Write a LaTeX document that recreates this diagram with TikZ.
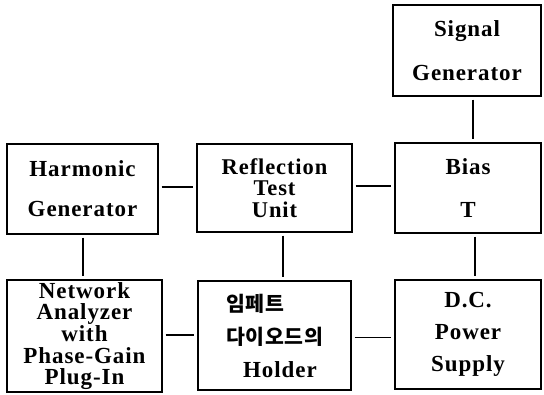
\documentclass[tikz,border=0pt]{standalone}
\usepackage{fontspec}
\setmainfont{Liberation Serif}[LetterSpace=4]
\newfontfamily\krfont{Noto Sans CJK KR}[LetterSpace=3]
\begin{document}
\begin{tikzpicture}[x=1pt,y=-1pt,
  box/.style={draw, line width=1.2pt, rectangle, inner sep=0pt, align=center},
  link/.style={line width=1.1pt, shorten >=3pt, shorten <=3pt},
  vlink/.style={link, line width=1.6pt}]
\useasboundingbox (0,0) rectangle (544,395);
\node[box, minimum width=148pt, minimum height=91pt,
  font=\fontsize{23}{44}\selectfont\bfseries] (sig) at (467,50.5) {Signal\\Generator};
\node[box, minimum width=151pt, minimum height=90pt,
  font=\fontsize{23}{40}\selectfont\bfseries] (harm) at (82.5,189) {Harmonic\\Generator};
\node[box, minimum width=155pt, minimum height=88pt,
  font=\fontsize{22.5}{21.7}\selectfont\bfseries] (refl) at (274.5,188) {Reflection\\Test\\Unit};
\node[box, minimum width=146pt, minimum height=90pt,
  font=\fontsize{23}{43}\selectfont\bfseries] (bias) at (468,188) {Bias\\T};
\node[box, minimum width=155pt, minimum height=112pt,
  font=\fontsize{23}{21.7}\selectfont\bfseries] (net) at (84.5,336)
  {Network\\Analyzer\\with\\Phase-Gain\\Plug-In};
\node[box, minimum width=153pt, minimum height=109pt, align=left,
  font=\fontsize{23}{33}\selectfont\bfseries] (hold) at (274.5,335.5)
  {{\krfont\fontsize{20.5}{33}\selectfont 임페트}\\{\krfont\fontsize{20.5}{33}\selectfont 다이오드의}\\\hspace*{17pt}Holder};
\node[box, minimum width=146pt, minimum height=109pt,
  font=\fontsize{23}{32}\selectfont\bfseries] (dc) at (468,334.5) {D.C.\\Power\\Supply};
\draw[vlink] ([xshift=6pt]sig.south) -- ([xshift=6pt]sig.south |- bias.north);
\draw[vlink] ([xshift=7pt]bias.south) -- ([xshift=7pt]bias.south |- dc.north);
\draw[vlink] ([xshift=0.5pt]harm.south) -- ([xshift=0.5pt]harm.south |- net.north);
\draw[vlink] ([xshift=8.5pt]refl.south) -- ([xshift=8.5pt]refl.south |- hold.north);
\draw[link] ([yshift=2pt]harm.east) -- ([yshift=2pt]harm.east -| refl.west);
\draw[link] ([yshift=2pt]refl.east) -- ([yshift=2pt]refl.east -| bias.west);
\draw[link] ([yshift=1pt]net.east) -- ([yshift=1pt]net.east -| hold.west);
\draw[link] ([yshift=-2pt]hold.east) -- ([yshift=-2pt]hold.east -| dc.west);
\end{tikzpicture}
\end{document}
